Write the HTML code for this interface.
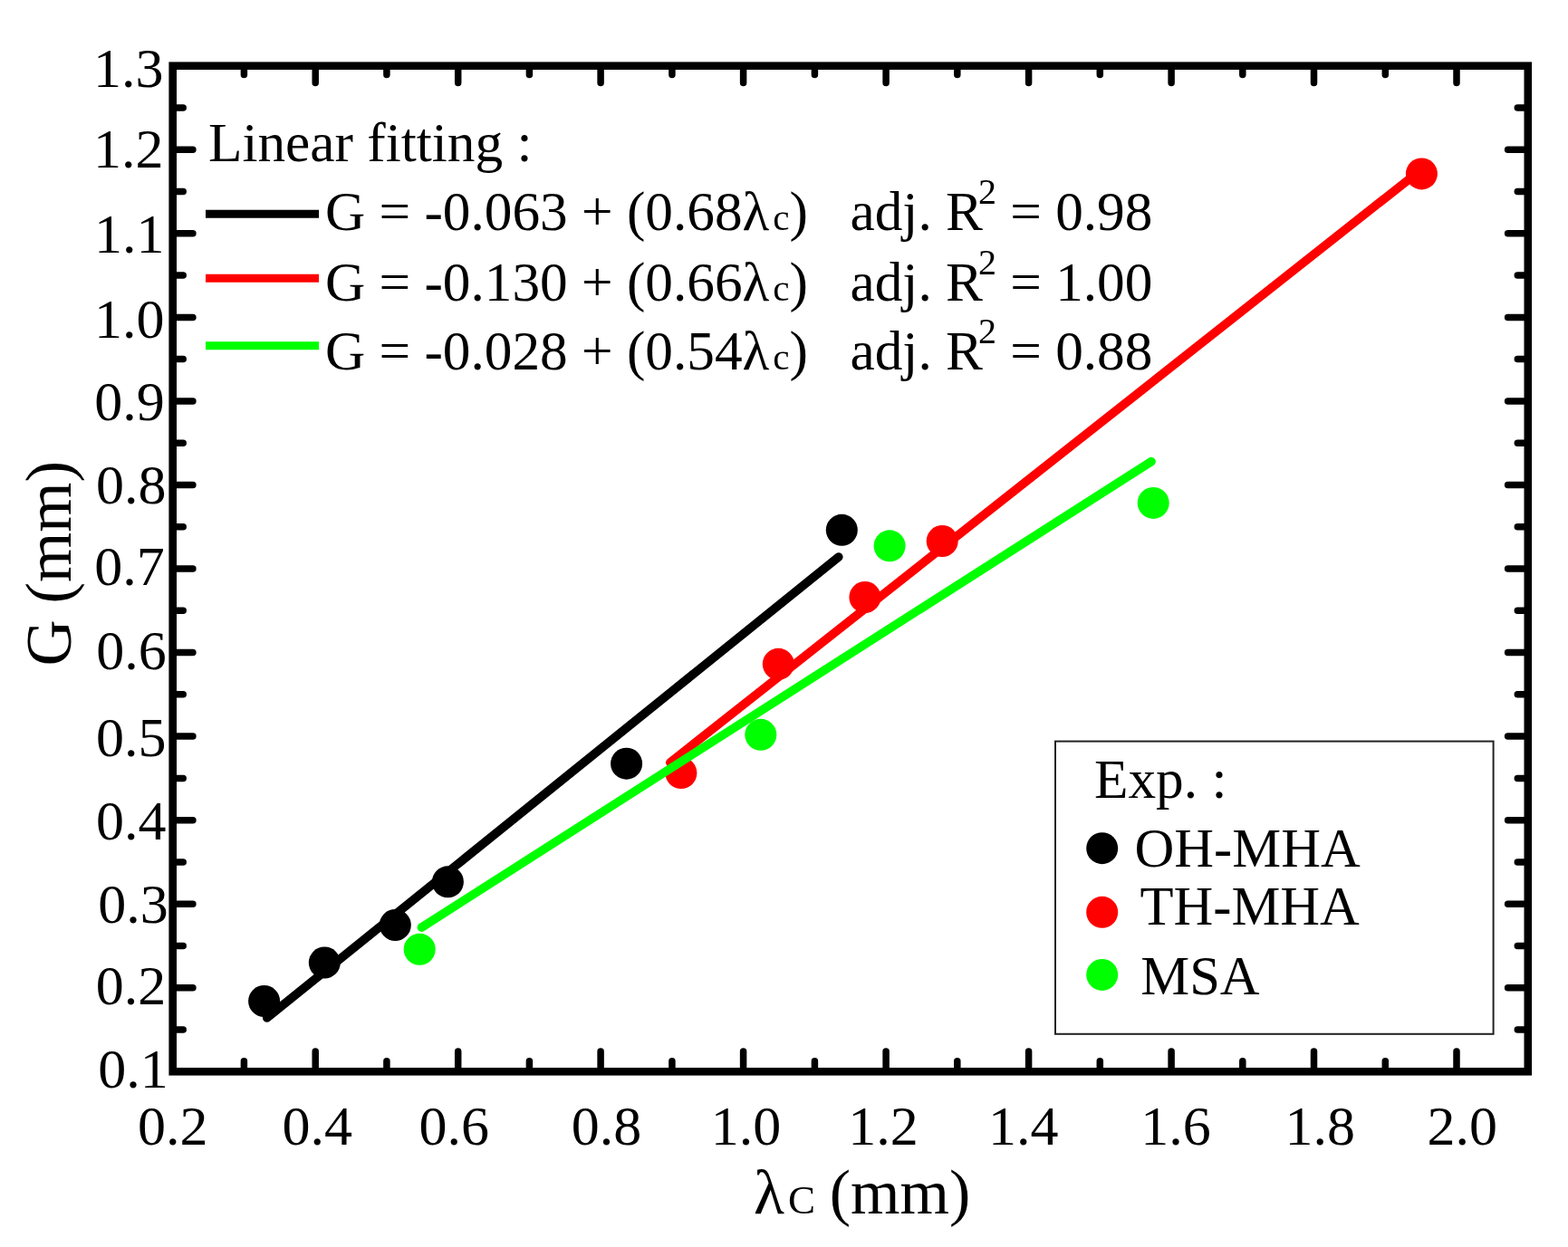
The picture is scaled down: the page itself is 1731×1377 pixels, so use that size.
<!DOCTYPE html>
<html><head><meta charset="utf-8"><title>G vs lambda_c</title>
<style>
html,body{margin:0;padding:0;background:#fff;}
svg{display:block;}
text{font-family:"Liberation Serif","Times New Roman",serif;fill:#000;}
.t{font-size:62px;}
.l{font-size:61.3px;}
.ax{font-size:70px;}
.lb{font-size:60.6px;}
</style></head>
<body>
<svg width="1731" height="1377" viewBox="0 0 1731 1377">
<rect width="1731" height="1377" fill="#fff"/>
<rect x="190.7" y="72.7" width="1496.1" height="1110.6" fill="none" stroke="#000" stroke-width="8.6"/>
<path d="M269.4 1183.3v-11.5M269.4 72.7v9.9M348.2 1183.3v-22.2M348.2 72.7v18.8M426.9 1183.3v-11.5M426.9 72.7v9.9M505.7 1183.3v-22.2M505.7 72.7v18.8M584.4 1183.3v-11.5M584.4 72.7v9.9M663.1 1183.3v-22.2M663.1 72.7v18.8M741.9 1183.3v-11.5M741.9 72.7v9.9M820.6 1183.3v-22.2M820.6 72.7v18.8M899.4 1183.3v-11.5M899.4 72.7v9.9M978.1 1183.3v-22.2M978.1 72.7v18.8M1056.8 1183.3v-11.5M1056.8 72.7v9.9M1135.6 1183.3v-22.2M1135.6 72.7v18.8M1214.3 1183.3v-11.5M1214.3 72.7v9.9M1293.1 1183.3v-22.2M1293.1 72.7v18.8M1371.8 1183.3v-11.5M1371.8 72.7v9.9M1450.5 1183.3v-22.2M1450.5 72.7v18.8M1529.3 1183.3v-11.5M1529.3 72.7v9.9M1608.0 1183.3v-22.2M1608.0 72.7v18.8M190.7 1137.0h11.5M1686.8 1137.0h-11.5M190.7 1090.8h22.2M1686.8 1090.8h-22.2M190.7 1044.5h11.5M1686.8 1044.5h-11.5M190.7 998.2h22.2M1686.8 998.2h-22.2M190.7 951.9h11.5M1686.8 951.9h-11.5M190.7 905.7h22.2M1686.8 905.7h-22.2M190.7 859.4h11.5M1686.8 859.4h-11.5M190.7 813.1h22.2M1686.8 813.1h-22.2M190.7 766.8h11.5M1686.8 766.8h-11.5M190.7 720.6h22.2M1686.8 720.6h-22.2M190.7 674.3h11.5M1686.8 674.3h-11.5M190.7 628.0h22.2M1686.8 628.0h-22.2M190.7 581.7h11.5M1686.8 581.7h-11.5M190.7 535.5h22.2M1686.8 535.5h-22.2M190.7 489.2h11.5M1686.8 489.2h-11.5M190.7 442.9h22.2M1686.8 442.9h-22.2M190.7 396.6h11.5M1686.8 396.6h-11.5M190.7 350.4h22.2M1686.8 350.4h-22.2M190.7 304.1h11.5M1686.8 304.1h-11.5M190.7 257.8h22.2M1686.8 257.8h-22.2M190.7 211.5h11.5M1686.8 211.5h-11.5M190.7 165.3h22.2M1686.8 165.3h-22.2M190.7 119.0h11.5M1686.8 119.0h-11.5" stroke="#000" stroke-width="7.5" stroke-linecap="round" fill="none"/>
<text x="141.8" y="96.2" text-anchor="middle" class="t">1.3</text>
<text x="141.8" y="185.0" text-anchor="middle" class="t">1.2</text>
<text x="142.7" y="278.8" text-anchor="middle" class="t">1.1</text>
<text x="142.7" y="372.9" text-anchor="middle" class="t">1.0</text>
<text x="142.9" y="464.2" text-anchor="middle" class="t">0.9</text>
<text x="144.7" y="555.7" text-anchor="middle" class="t">0.8</text>
<text x="142.9" y="646.1" text-anchor="middle" class="t">0.7</text>
<text x="145.1" y="738.7" text-anchor="middle" class="t">0.6</text>
<text x="144.7" y="835.1" text-anchor="middle" class="t">0.5</text>
<text x="144.7" y="927.2" text-anchor="middle" class="t">0.4</text>
<text x="146.9" y="1019.2" text-anchor="middle" class="t">0.3</text>
<text x="144.4" y="1108.8" text-anchor="middle" class="t">0.2</text>
<text x="146.9" y="1201.3" text-anchor="middle" class="t">0.1</text>
<text x="190.8" y="1264" text-anchor="middle" class="t">0.2</text>
<text x="350.3" y="1264" text-anchor="middle" class="t">0.4</text>
<text x="501.3" y="1264" text-anchor="middle" class="t">0.6</text>
<text x="669.6" y="1264" text-anchor="middle" class="t">0.8</text>
<text x="823.5" y="1264" text-anchor="middle" class="t">1.0</text>
<text x="975" y="1264" text-anchor="middle" class="t">1.2</text>
<text x="1129.8" y="1264" text-anchor="middle" class="t">1.4</text>
<text x="1298.1" y="1264" text-anchor="middle" class="t">1.6</text>
<text x="1457.3" y="1264" text-anchor="middle" class="t">1.8</text>
<text x="1614.2" y="1264" text-anchor="middle" class="t">2.0</text>
<text x="832" y="1340" class="ax">λ<tspan font-size="45" dx="4">C</tspan></text>
<text x="915.7" y="1340" class="ax">(mm)</text>
<text transform="translate(78,735.6) rotate(-90)" class="ax" style="font-size:71px">G (mm)</text>
<line x1="294.7" y1="1124.0" x2="925.8" y2="615.0" stroke="#000" stroke-width="9.6" stroke-linecap="round"/>
<circle cx="291.6" cy="1105.5" r="17.5" fill="#000"/>
<circle cx="358.3" cy="1063" r="17.5" fill="#000"/>
<circle cx="436.3" cy="1021.5" r="17.5" fill="#000"/>
<circle cx="494.4" cy="973.8" r="17.5" fill="#000"/>
<circle cx="691.6" cy="843.2" r="17.5" fill="#000"/>
<circle cx="929.3" cy="585.3" r="17.5" fill="#000"/>
<line x1="739.8" y1="842.0" x2="1561.2" y2="193.4" stroke="#f00" stroke-width="9.6" stroke-linecap="round"/>
<circle cx="751.9" cy="853.6" r="17.5" fill="#f00"/>
<circle cx="859.3" cy="733.3" r="17.5" fill="#f00"/>
<circle cx="954.9" cy="659.5" r="17.5" fill="#f00"/>
<circle cx="1040.2" cy="597.5" r="17.5" fill="#f00"/>
<circle cx="1569.4" cy="191.9" r="17.5" fill="#f00"/>
<line x1="465.4" y1="1024.1" x2="1271.0" y2="509.6" stroke="#0f0" stroke-width="9.6" stroke-linecap="round"/>
<circle cx="463.2" cy="1048.3" r="17.5" fill="#0f0"/>
<circle cx="839.8" cy="811.3" r="17.5" fill="#0f0"/>
<circle cx="982.1" cy="602.8" r="17.5" fill="#0f0"/>
<circle cx="1273.2" cy="555.4" r="17.5" fill="#0f0"/>
<text x="230" y="177.5" class="l">Linear fitting :</text>
<line x1="227" y1="236.2" x2="352" y2="236.2" stroke="#000" stroke-width="9"/>
<text x="358.9" y="254" class="l">G = -0.063 + (0.68λ<tspan font-size="41" dx="4">c</tspan>)</text>
<text x="938.5" y="254" class="l">adj. R<tspan font-size="40" dx="-5" dy="-29">2</tspan><tspan dy="29"> = 0.98</tspan></text>
<line x1="227" y1="307.3" x2="352" y2="307.3" stroke="#f00" stroke-width="9"/>
<text x="358.9" y="331.5" class="l">G = -0.130 + (0.66λ<tspan font-size="41" dx="4">c</tspan>)</text>
<text x="938.5" y="331.5" class="l">adj. R<tspan font-size="40" dx="-5" dy="-29">2</tspan><tspan dy="29"> = 1.00</tspan></text>
<line x1="227" y1="381.8" x2="352" y2="381.8" stroke="#0f0" stroke-width="9"/>
<text x="358.9" y="408" class="l">G = -0.028 + (0.54λ<tspan font-size="41" dx="4">c</tspan>)</text>
<text x="938.5" y="408" class="l">adj. R<tspan font-size="40" dx="-5" dy="-29">2</tspan><tspan dy="29"> = 0.88</tspan></text>
<rect x="1165" y="818.6" width="483.6" height="323.2" fill="#fff" stroke="#222" stroke-width="2"/>
<text x="1208" y="880.5" class="l">Exp. :</text>
<circle cx="1216.7" cy="936.7" r="17.5" fill="#000"/>
<circle cx="1216.7" cy="1007.3" r="17.5" fill="#f00"/>
<circle cx="1216.7" cy="1076.4" r="17.5" fill="#0f0"/>
<text x="1252.6" y="957.2" class="lb">OH-MHA</text>
<text x="1258.5" y="1021.2" class="lb">TH-MHA</text>
<text x="1259.3" y="1098.4" class="lb">MSA</text>
</svg>
</body></html>
